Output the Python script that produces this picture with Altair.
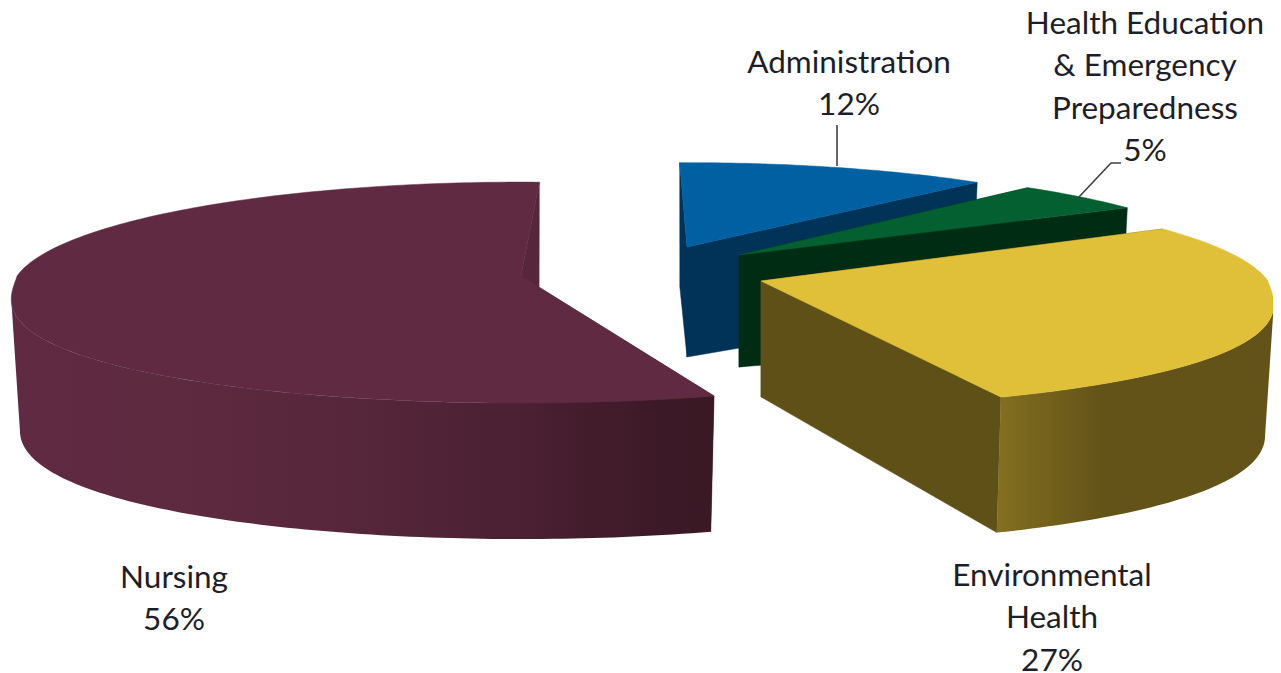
import math
import altair as alt

# ---- chart values, clockwise from the top of the pie
categories = [
    ["Administration"],
    ["Health Education", "& Emergency", "Preparedness"],
    ["Environmental", "Health"],
    ["Nursing"],
]
values = [12, 5, 27, 56]

# ---- colours
top_colors = ["#0060A2", "#046030", "#E0C038", "#5F2A42"]
wall_colors = ["#013358", "#012C14", "#5F5018", "#56263A"]
rim_stops = [
    [(0, "#013358"), (1, "#013358")],
    [(0, "#012C14"), (1, "#012C14")],
    [(0, "#84701F"), (0.1, "#7A671E"), (0.38, "#635318"), (1, "#635318")],
    [(0, "#5F2A42"), (0.2, "#5E2A40"), (0.45, "#58273B"), (0.72, "#4B2033"), (0.93, "#3C1926"), (1, "#3A1824")],
]

# ---- pseudo-3D camera: apex of every exploded slice and ellipse shape
apex_x = [687, 739, 761, 521]
apex_y = [247, 255, 281, 276]
radius_x = [480, 485, 507, 504]
radius_y = [97, 100, 108, 108]
start_deg = [-1, 41.5, 58.7, 160.8]
apex_depth = [110, 112, 116, 116]
PERSPECTIVE = 0.15
SHRINK = 0.983
FRONT_POWER = 0.82
RIM_FROM, RIM_TO = 98.6, 261.4

# ---- label placement (page pixels: centre and first baseline)
label_x = [849, 1145, 1052, 174]
label_y = [73, 34, 586, 588]
LINE_H = 42.4


def top(i, deg):
    t = math.radians(deg)
    s, c = math.sin(t), math.cos(t)
    p = 1 / (1 + PERSPECTIVE * c)
    # the front of the pie bulges more than an ellipse
    fy = c if c >= 0 else -(abs(c) ** FRONT_POWER)
    return [apex_x[i] + radius_x[i] * s * p, apex_y[i] - radius_y[i] * fy * p]


def bottom(i, deg):
    x, y = top(i, deg)
    d = 130 - 6 * math.cos(math.radians(deg))
    return [apex_x[i] + (x - apex_x[i]) * SHRINK, y + d]


def apex_bottom(i):
    return [apex_x[i], apex_y[i] + apex_depth[i]]


def frange(a, b, step=1.0):
    n = max(1, int(abs(b - a) / step))
    return [a + (b - a) * j / n for j in range(n + 1)]


def poly(points):
    ring = list(points) + [points[0]]
    return alt.InlineData(
        values=[{"type": "Feature", "properties": {}, "geometry": {"type": "Polygon", "coordinates": [ring]}}],
        format=alt.DataFormat(type="json"),
    )


projection = alt.Projection(type="identity", scale=1, translate=[-8, -8])


def shape(points, fill):
    is_plain = isinstance(fill, str)
    kwargs = {"stroke": fill, "strokeWidth": 0.5} if is_plain else {}
    return (
        alt.Chart(poly(points))
        .mark_geoshape(fill=fill, **kwargs)
        .project(**projection.to_dict())
    )


layers = []
for i, v in enumerate(values):
    a0 = start_deg[i]
    a1 = a0 + 3.6 * v
    apex = [apex_x[i], apex_y[i]]
    # flat cut faces
    layers.append(shape([top(i, a0), apex, apex_bottom(i), bottom(i, a0)], wall_colors[i]))
    layers.append(shape([top(i, a1), apex, apex_bottom(i), bottom(i, a1)], wall_colors[i]))
    # curved rim, only where it faces the viewer
    r0, r1 = max(a0, RIM_FROM), min(a1, RIM_TO)
    if r1 > r0:
        fill = alt.LinearGradient(
            gradient="linear", x1=0, x2=1, y1=0, y2=0,
            stops=[alt.GradientStop(offset=o, color=c) for o, c in rim_stops[i]],
        )
        arc = frange(r0, r1)
        layers.append(shape([top(i, d) for d in arc] + [bottom(i, d) for d in reversed(arc)], fill))
    # top face
    layers.append(shape([apex] + [top(i, d) for d in frange(a0, a1)], top_colors[i]))

# leader lines
leaders = [[(837, 125), (837, 166)], [(1078, 198), (1111, 163), (1121, 163)]]
for line in leaders:
    layers.append(
        alt.Chart(alt.InlineData(
            values=[{"type": "Feature", "properties": {}, "geometry": {"type": "LineString", "coordinates": [list(p) for p in line]}}],
            format=alt.DataFormat(type="json"),
        ))
        .mark_geoshape(filled=False, stroke="#404040", strokeWidth=1.6)
        .project(**projection.to_dict())
    )

labels = []
for lines, v, x, y in zip(categories, values, label_x, label_y):
    for k, s in enumerate(lines + [f"{v}%"]):
        labels.append({"text": s, "x": x - 8, "y": y - 8 + k * LINE_H})
text = (
    alt.Chart(alt.InlineData(values=labels))
    .mark_text(font="Lato", fontSize=31.5, align="center", baseline="alphabetic", color="#1E1E2A")
    .encode(x=alt.X("x:Q", scale=None), y=alt.Y("y:Q", scale=None), text="text:N")
)
layers.append(text)

chart = (
    alt.layer(*layers)
    .properties(width=1265, height=657, padding=0, background="white")
    .configure_view(stroke=None)
)
chart.save("out.html", embed_options={"renderer": "svg", "actions": False})
